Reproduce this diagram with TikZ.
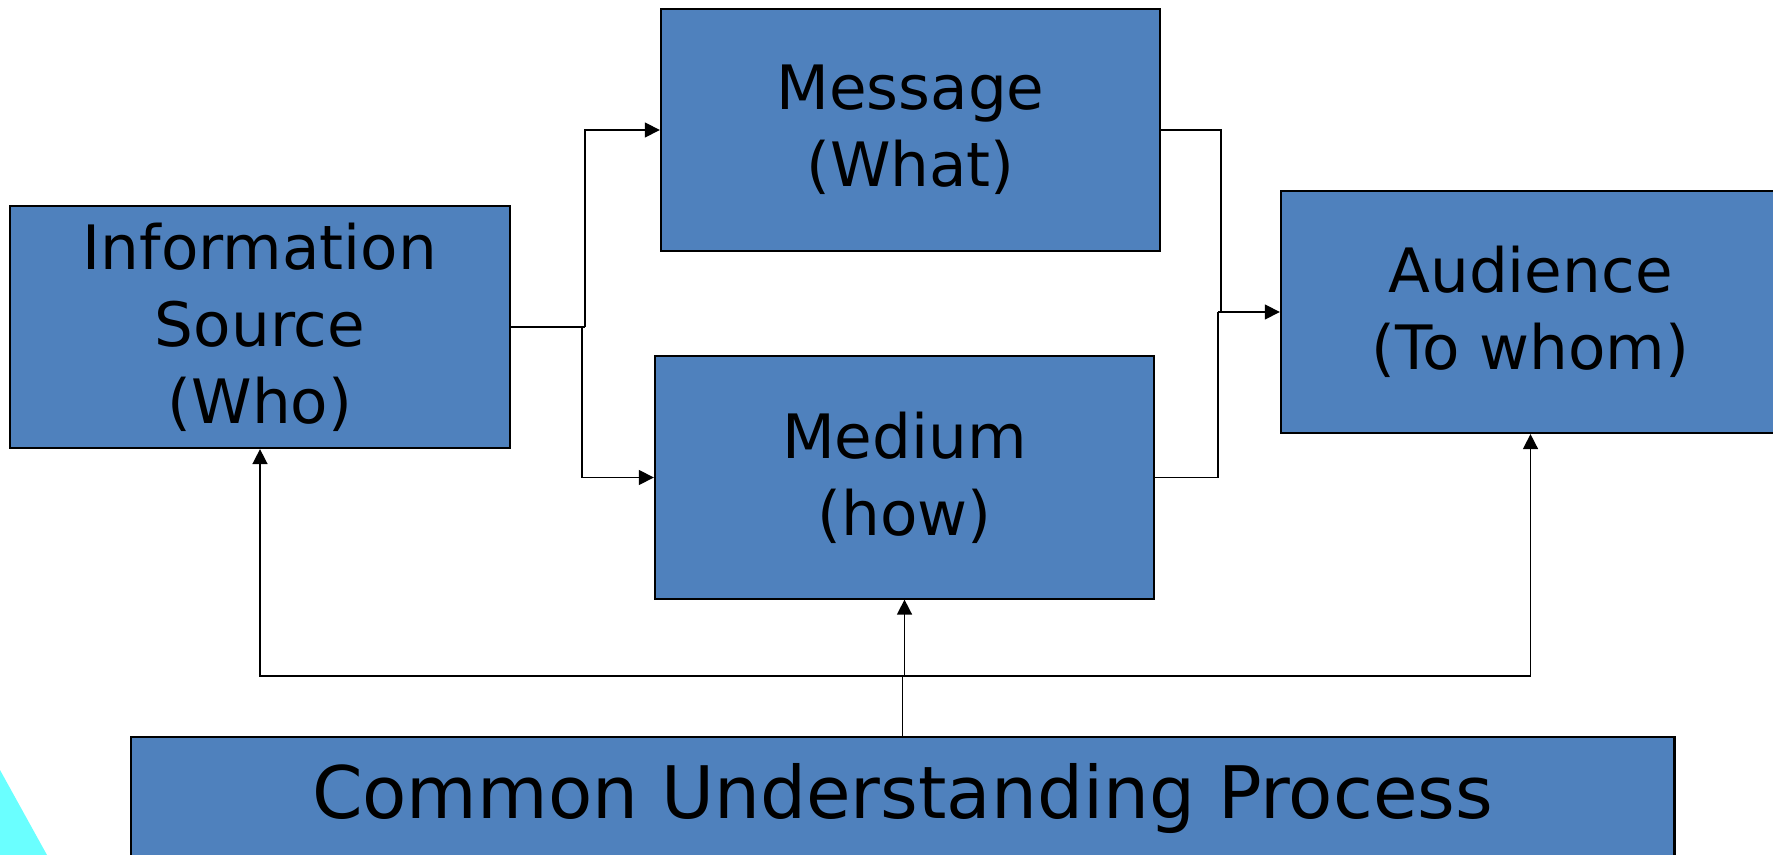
\documentclass[tikz,border=0pt]{standalone}
\usepackage{fontspec}
\setmainfont{DejaVu Sans}
\usepackage{xcolor}
\usetikzlibrary{positioning, arrows.meta}
\definecolor{BoxBlue}{HTML}{4F81BD}
\definecolor{Aqua}{HTML}{6AFFFF}
\tikzset{
  bx/.style={draw=black, line width=0.6pt, fill=BoxBlue, align=center,
             font=\fontsize{17.4}{21.9}\selectfont, text=black,
             minimum width=4.99cm, minimum height=2.42cm, inner sep=0pt},
  big/.style={bx, font=\fontsize{20.6}{25}\selectfont, minimum width=15.43cm,
              minimum height=0pt, inner ysep=0pt, text height=0.81cm, text depth=0.89cm},
  ln/.style={line width=0.45pt},
  ar/.style={ln, -{Triangle[length=0.15cm, width=0.15cm]}},
}

\begin{document}
\begin{tikzpicture}[x=0.01cm, y=-0.01cm]
  \clip (0,0) rectangle (1773,855);
  \fill[white] (0,0) rectangle (1773,855);
  \fill[Aqua] (0,770) -- (47,855) -- (0,855) -- cycle;

  \node[bx] (info)   at (260,327)    {Information\\Source\\(Who)};
  \node[bx] (msg)    at (910.5,130)  {Message\\(What)};
  \node[bx] (medium) at (904.5,477.5) {Medium\\(how)};
  \node[bx] (aud)    at (1530.5,312) {Audience\\(To whom)};
  \node[big, anchor=north] (common) at (902.5,736) {Common Understanding Process};

  \coordinate (splitA) at (585,327);
  \coordinate (splitB) at (582,327);
  \coordinate (joinA)  at (1221,312);
  \coordinate (joinB)  at (1218,312);
  \coordinate (hub)    at (902.5,676);

  % source fans out to message and medium
  \draw[ln] (info.east) -- (splitA);
  \draw[ar] (splitA) |- (msg.west);
  \draw[ar] (splitB) |- (medium.west);
  % both meet again in front of the audience
  \draw[ln] (msg.east) -| (joinA);
  \draw[ln] (medium.east) -| (joinB);
  \draw[ar] (joinB) -- (aud.west);
  % common understanding feeds back up
  \draw[ln] (common.north) -- (hub);
  \draw[ar] (hub) -| (info.south);
  \draw[ar] (hub) -| (aud.south);
  \draw[ar] (hub) -| (medium.south);
\end{tikzpicture}
\end{document}
